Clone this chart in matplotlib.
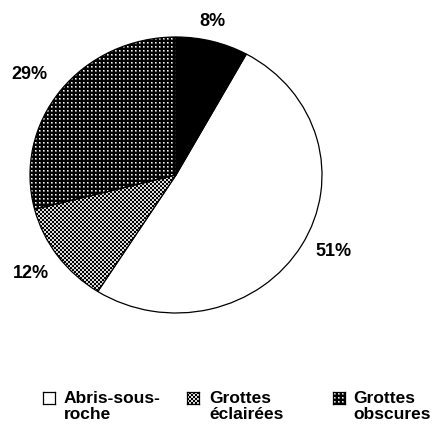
import numpy as np
import matplotlib.pyplot as plt

plt.rcParams['font.family'] = ['Liberation Sans', 'DejaVu Sans']

W, H = 433, 425

# parts, clockwise from 12 o'clock
values = [8, 51, 12, 29]
fills = ['black', 'white', 'light', 'dark']
# small nudges of the percent labels (data units)
label_shift = [(-0.05, -0.06), (0.04, 0.06), (-0.015, 0.0), (-0.045, -0.01)]

legend_labels = ['Abris-sous-\nroche', 'Grottes\néclairées', 'Grottes\nobscures']
legend_fills = ['white', 'light', 'dark']


def texture(kind, h, w):
    # 1 = white, 0 = black
    if kind == 'dark':
        tile = np.zeros((4, 4))
        tile[1:3, 1:3] = [[1.0, 0.55], [0.55, 0.4]]
    elif kind == 'light':
        tile = np.array([[0.85, 0.85, 0, 0], [0.85, 0.85, 0, 0],
                         [0, 0, 0.85, 0.85], [0, 0, 0.85, 0.85]])
    elif kind == 'white':
        tile = np.ones((4, 4))
    else:
        tile = np.zeros((4, 4))
    reps = (h // 4 + 1, w // 4 + 1)
    return np.tile(tile, reps)[:h, :w]


fig = plt.figure(figsize=(W / 100, H / 100), dpi=100)

# pie box in pixels (slightly wider than tall, like the scan)
px_l, px_t, px_w, px_h = 30, 37, 292, 276
ax = fig.add_axes([px_l / W, 1 - (px_t + px_h) / H, px_w / W, px_h / H])

wedges, texts, autotexts = ax.pie(values, colors=['white'] * 4, startangle=90, counterclock=False,
                                  autopct='%d%%', pctdistance=1.21,
                                  wedgeprops=dict(edgecolor='black', linewidth=0.9),
                                  textprops=dict(fontsize=13, fontweight='bold'))
ax.set_aspect('auto')
ax.set_xlim(-1, 1)
ax.set_ylim(-1, 1)

for w, kind in zip(wedges, fills):
    if kind in ('dark', 'light', 'black'):
        im = ax.imshow(texture(kind, px_h, px_w), cmap='gray', vmin=0, vmax=1,
                       extent=(-1, 1, -1, 1), interpolation='nearest', aspect='auto', zorder=1.5)
        im.set_clip_path(w)
        w.set_zorder(2)
        w.set_facecolor('none')

for t, (dx, dy) in zip(autotexts, label_shift):
    x, y = t.get_position()
    t.set_position((x + dx, y + dy))

# legend drawn by hand: square + two-line label
sq_x = [43, 187, 333]
txt_x = [64, 209, 353]
top = 392
for sx, tx, lab, kind in zip(sq_x, txt_x, legend_labels, legend_fills):
    lax = fig.add_axes([sx / W, 1 - (top + 12) / H, 12 / W, 12 / H])
    lax.imshow(texture(kind, 12, 12), cmap='gray', vmin=0, vmax=1, interpolation='nearest')
    lax.set_xticks([])
    lax.set_yticks([])
    for s in lax.spines.values():
        s.set_linewidth(0.9)
    fig.text(tx / W, 1 - (top - 1) / H, lab, ha='left', va='top', fontsize=12.5,
             fontweight='bold', linespacing=1.05)

fig.savefig('out.png', dpi=100)
